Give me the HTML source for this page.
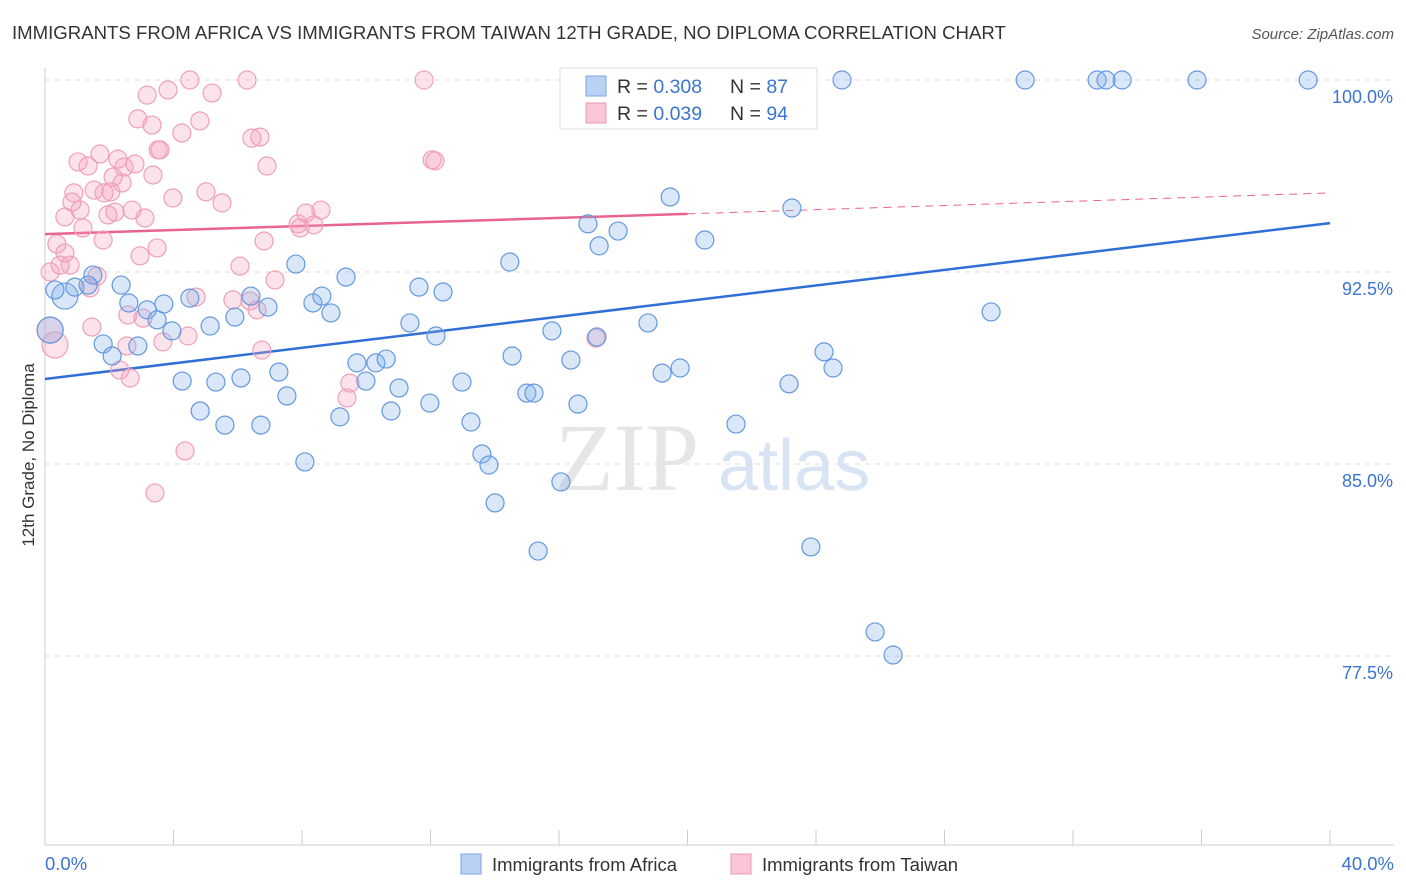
<!DOCTYPE html>
<html><head><meta charset="utf-8"><style>
body{margin:0;background:#fff;font-family:"Liberation Sans",sans-serif;}
svg{display:block}
</style></head><body>
<svg id="chart" width="1406" height="892" xmlns="http://www.w3.org/2000/svg">
<text x="12" y="39" font-size="18.6" fill="#333">IMMIGRANTS FROM AFRICA VS IMMIGRANTS FROM TAIWAN 12TH GRADE, NO DIPLOMA CORRELATION CHART</text>
<text x="1394" y="39" font-size="15" fill="#555" text-anchor="end" font-style="italic">Source: ZipAtlas.com</text>
<g><text x="555" y="490" font-size="96" fill="#e6e6e6" font-family="Liberation Serif">ZIP</text><text x="718" y="490" font-size="72" fill="#d8e4f4">atlas</text></g>
<text transform="translate(34,455) rotate(-90)" font-size="17" fill="#333" text-anchor="middle">12th Grade, No Diploma</text>
<g id="grid"></g><g id="axes"></g><g id="trend"></g><g id="pts"></g>
<g>
<rect x="560" y="68" width="257" height="61" fill="#fff" stroke="#ddd"/>
<rect x="586" y="76" width="20" height="20" fill="#b9d2f3" stroke="#7aa6e6"/>
<text x="617" y="93" font-size="19.5" fill="#333">R = <tspan fill="#3a75d0">0.308</tspan></text>
<text x="730" y="93" font-size="19.5" fill="#333">N = <tspan fill="#3a75d0">87</tspan></text>
<rect x="586" y="103" width="20" height="20" fill="#f8c6d5" stroke="#ee9ab5"/>
<text x="617" y="120" font-size="19.5" fill="#333">R = <tspan fill="#3a75d0">0.039</tspan></text>
<text x="730" y="120" font-size="19.5" fill="#333">N = <tspan fill="#3a75d0">94</tspan></text>
</g>
<g>
<rect x="461" y="854" width="20" height="20" fill="#b9d2f3" stroke="#7aa6e6"/>
<text x="492" y="871" font-size="18.5" fill="#333">Immigrants from Africa</text>
<rect x="731" y="854" width="20" height="20" fill="#f8c6d5" stroke="#ee9ab5"/>
<text x="762" y="871" font-size="18.5" fill="#333">Immigrants from Taiwan</text>
</g>
</svg>
<script>
const blueX=[.16,.62,.31,1.49,1.34,.93,1.81,2.09,2.37,2.61,2.89,3.18,3.49,3.70,3.95,4.27,4.51,4.83,5.14,5.32,5.60,5.91,6.10,6.41,6.72,6.94,7.28,7.53,7.81,8.09,8.34,8.62,8.90,9.18,9.37,9.71,9.99,10.30,10.62,10.77,11.02,11.36,11.64,11.98,12.17,12.39,12.98,13.26,13.60,13.82,14.01,14.47,14.54,15.00,15.22,15.35,15.78,16.06,16.37,16.59,16.90,17.18,17.25,17.84,18.77,19.21,19.46,19.77,20.54,21.51,22.01,23.16,23.25,23.84,24.25,24.53,24.81,25.84,26.40,29.45,30.51,32.75,33.03,33.53,35.86,39.32];
const blueY=[90.23,91.56,91.80,92.38,91.99,91.91,89.69,89.22,91.99,91.29,89.61,91.02,90.63,91.25,90.20,88.24,91.48,87.07,90.39,88.20,86.52,90.74,88.36,91.56,86.52,91.13,88.59,87.66,92.81,85.08,91.29,91.56,90.90,86.84,92.30,88.95,88.24,88.95,89.10,87.07,87.97,90.51,91.91,87.38,90.00,91.72,88.20,86.64,85.39,84.96,83.48,92.89,89.22,87.77,87.77,81.60,90.20,84.30,89.06,87.34,94.38,89.96,93.52,94.10,90.51,88.55,95.43,88.75,93.75,86.56,100,88.13,95.00,81.76,89.38,88.75,100,78.44,77.54,90.94,100,100,100,100,100,100];
const pinkX=[.16,.31,.16,.37,.47,.62,.78,.62,.84,.90,1.03,1.09,1.18,1.34,1.40,1.46,1.53,1.62,1.71,1.81,1.84,1.96,2.05,2.12,2.18,2.27,2.33,2.40,2.46,2.55,2.58,2.65,2.71,2.80,2.89,2.96,3.05,3.11,3.18,3.33,3.36,3.42,3.49,3.52,3.58,3.67,3.83,3.98,4.26,4.36,4.45,4.51,4.70,4.82,5.01,5.20,5.51,5.85,6.07,6.29,6.38,6.44,6.60,6.69,6.75,6.82,6.91,7.16,7.88,7.94,8.12,8.37,8.59,9.49,9.40,11.80,12.05,12.14,17.15];
const pinkY=[90.23,89.65,92.50,93.59,92.77,93.24,92.77,94.65,95.23,95.59,96.80,94.92,94.22,96.64,91.88,90.35,95.70,92.34,97.11,93.75,95.59,94.73,95.63,96.21,94.84,96.91,88.67,95.98,96.60,89.61,90.82,88.36,94.92,96.72,98.48,93.13,90.70,94.61,99.41,98.24,96.29,83.87,93.44,97.27,97.27,89.77,99.61,95.39,97.93,85.51,90.00,100,91.52,98.40,95.63,99.49,95.20,91.41,92.73,100,91.37,97.73,91.02,97.77,89.45,93.71,96.64,92.19,94.38,94.22,94.80,94.34,94.92,88.16,87.58,100,96.88,96.84,89.92];
const yTicks=[100,92.5,85,77.5];
const yTickLabels=["100.0%","92.5%","85.0%","77.5%"];
const xLabels=["0.0%","40.0%"];
const blueTrend=[[0,88.32],[40,94.41]];
const pinkTrend=[[0,93.98],[20,94.77],[40,95.59]];
const NS="http://www.w3.org/2000/svg";
const X=v=>45+v*32.125, Y=v=>80+(100-v)*25.6;
function mk(tag,at,parent){const e=document.createElementNS(NS,tag);for(const k in at)e.setAttribute(k,at[k]);document.getElementById(parent).appendChild(e);return e;}
yTicks.forEach((t,i)=>{
 const l=mk('line',{x1:45,x2:1394,y1:Y(t),y2:Y(t),stroke:'#ddd','stroke-dasharray':'5,5'},'grid');
 
 
 const tx=mk('text',{x:1393,y:Y(t)+23,'font-size':18,fill:'#3a75d0','text-anchor':'end'},'grid');
 tx.textContent=yTickLabels[i];
 
 
});
let ax=mk('line',{x1:45,x2:45,y1:68,y2:845,stroke:'#ccc'},'axes');


ax=mk('line',{x1:45,x2:1394,y1:845,y2:845,stroke:'#ccc'},'axes');


for(let i=0;i<=10;i++){const t=mk('line',{x1:X(i*4),x2:X(i*4),y1:830,y2:845,stroke:'#ccc'},'axes');
 
 }
[[0,'start',45],[40,'end',1394]].forEach((d,i)=>{const t=mk('text',{x:d[2],y:870,'font-size':18.5,fill:'#3a75d0','text-anchor':d[1]},'axes');t.textContent=xLabels[i];
 
 });
let tl=mk('line',{x1:X(blueTrend[0][0]),y1:Y(blueTrend[0][1]),x2:X(blueTrend[1][0]),y2:Y(blueTrend[1][1]),stroke:'#2f6fd6','stroke-width':2.5},'trend');


tl=mk('line',{x1:X(pinkTrend[0][0]),y1:Y(pinkTrend[0][1]),x2:X(pinkTrend[1][0]),y2:Y(pinkTrend[1][1]),stroke:'#e8638e','stroke-width':2.5},'trend');


tl=mk('line',{x1:X(pinkTrend[1][0]),y1:Y(pinkTrend[1][1]),x2:X(pinkTrend[2][0]),y2:Y(pinkTrend[2][1]),stroke:'#e8638e','stroke-width':1,'stroke-dasharray':'8,6'},'trend');


pinkX.forEach((x,i)=>{const c=mk('circle',{cx:X(x),cy:Y(pinkY[i]),r:i<2?13:9,fill:'rgba(244,160,188,0.3)',stroke:'#ef9fba','stroke-width':1.2},'pts');
 
 });
blueX.forEach((x,i)=>{const c=mk('circle',{cx:X(x),cy:Y(blueY[i]),r:i<2?13:9,fill:'rgba(130,175,235,0.3)',stroke:'#6398e0','stroke-width':1.2},'pts');
 
 });
</script>
</body></html>
